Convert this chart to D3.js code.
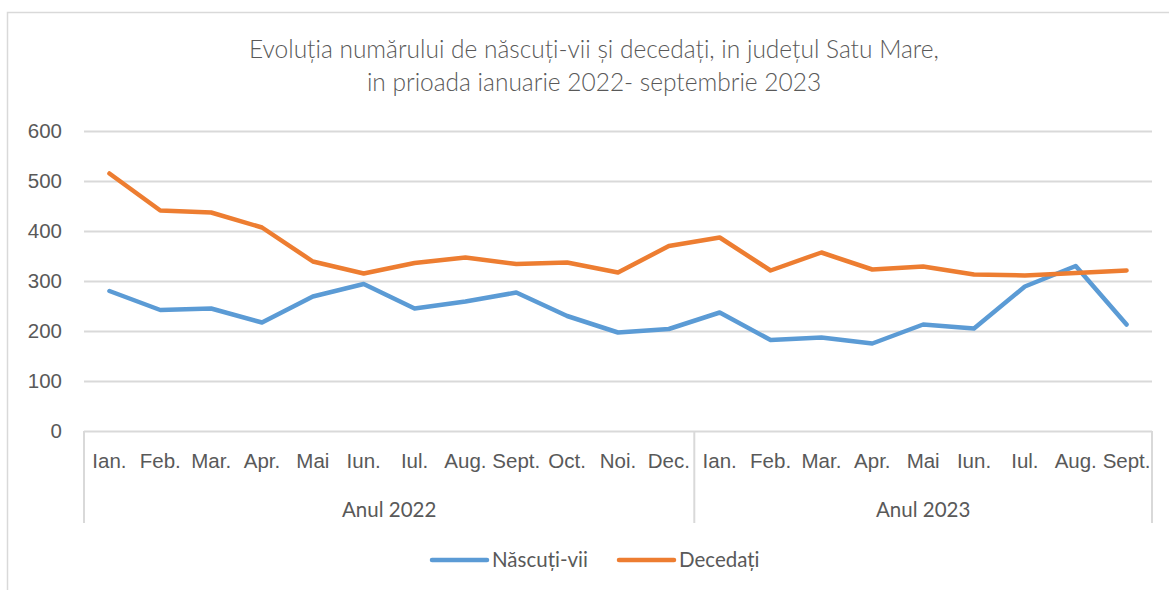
<!doctype html>
<html>
<head>
<meta charset="utf-8">
<title>Născuți-vii și decedați, Satu Mare</title>
<script src="https://cdnjs.cloudflare.com/ajax/libs/d3/7.8.5/d3.min.js"></script>
<style>
  body { margin: 0; background: #fff; }
  svg { display: block; font-family: Lato, 'Open Sans', sans-serif; }
  .tick text, .lbl { fill: #595959; }
</style>
</head>
<body>
<div id="chart"></div>
<script>
// data
var months2022 = ["Ian.", "Feb.", "Mar.", "Apr.", "Mai", "Iun.", "Iul.", "Aug.", "Sept.", "Oct.", "Noi.", "Dec."];
var months2023 = ["Ian.", "Feb.", "Mar.", "Apr.", "Mai", "Iun.", "Iul.", "Aug.", "Sept."];
var years = ["Anul 2022", "Anul 2023"];
var nascuti = [280, 242, 245, 217, 269, 294, 245, 259, 277, 230, 197, 204, 237, 182, 187, 175, 213, 205, 289, 330, 213];
var decedati = [515, 441, 437, 407, 339, 315, 336, 347, 334, 337, 317, 370, 387, 321, 357, 323, 329, 313, 311, 316, 321];
var yTicks = [0, 100, 200, 300, 400, 500, 600];
var seriesNames = ["Născuți-vii", "Decedați"];
var titleLines = ["Evoluția numărului de născuți-vii și decedați, in județul Satu Mare,",
                  "in prioada ianuarie 2022- septembrie 2023"];

var width = 1169, height = 590;
var margin = { top: 131, right: 17, bottom: 159, left: 84 };
var colors = ["#5B9BD5", "#ED7D31"];
var gridColor = "#D9D9D9";

// one entry per month, with its year group
var cats = [];
months2022.forEach(function (m, i) { cats.push({ id: "a" + i, month: m, year: years[0] }); });
months2023.forEach(function (m, i) { cats.push({ id: "b" + i, month: m, year: years[1] }); });

var svg = d3.select("#chart").append("svg").attr("width", width).attr("height", height);

// chart frame (runs off the right and bottom edge like the screenshot)
svg.append("rect")
    .attr("x", 7.5).attr("y", 12.5)
    .attr("width", width + 20).attr("height", height + 20)
    .attr("fill", "none").attr("stroke", gridColor).attr("stroke-width", 1.5);

var xScale = d3.scaleBand(cats.map(d => d.id), [margin.left, width - margin.right]).padding(0);
var yScale = d3.scaleLinear([0, 600], [height - margin.bottom, margin.top]);
var x = id => xScale(id) + xScale.bandwidth() / 2;

// title
svg.append("g").selectAll("text")
    .data(titleLines)
    .join("text")
    .attr("class", "lbl")
    .attr("x", 594)
    .attr("y", (d, i) => 58 + i * 33)
    .attr("text-anchor", "middle")
    .style("font-size", "24.5px")
    .style("font-weight", 300)
    .text(d => d);

// horizontal gridlines + y labels
var yAxis = d3.axisLeft(yScale).tickValues(yTicks).tickSize(-(width - margin.right - margin.left)).tickPadding(22);
var gy = svg.append("g").attr("transform", `translate(${margin.left},0)`).call(yAxis);
gy.select(".domain").remove();
gy.selectAll(".tick line").attr("stroke", gridColor).attr("stroke-width", 2);
gy.selectAll(".tick text").style("font-size", "20.5px").attr("font-family", null);

// month labels
var xAxis = d3.axisBottom(xScale).tickSize(0).tickPadding(22).tickFormat((d, i) => cats[i].month);
var gx = svg.append("g").attr("transform", `translate(0,${height - margin.bottom})`).call(xAxis);
gx.select(".domain").remove();
gx.selectAll(".tick text").style("font-size", "20.5px").attr("font-family", null);

// year groups: separators and labels
var groups = years.map(function (y) {
    var ids = cats.filter(d => d.year === y).map(d => d.id);
    return { name: y, x0: xScale(ids[0]), x1: xScale(ids[ids.length - 1]) + xScale.bandwidth() };
});
var y0 = yScale(0);
var sepX = [groups[0].x0, groups[0].x1, groups[1].x1];
svg.append("g").selectAll("line")
    .data(sepX)
    .join("line")
    .attr("x1", d => d).attr("x2", d => d)
    .attr("y1", y0).attr("y2", y0 + 92)
    .attr("stroke", gridColor).attr("stroke-width", 2);

svg.append("g").selectAll("text")
    .data(groups)
    .join("text")
    .attr("class", "lbl")
    .attr("x", d => (d.x0 + d.x1) / 2)
    .attr("y", y0 + 86)
    .attr("text-anchor", "middle")
    .style("font-size", "20.5px")
    .text(d => d.name);

// lines
var line = d3.line().x((d, i) => x(cats[i].id)).y(d => yScale(d));
svg.append("g").selectAll("path")
    .data([nascuti, decedati])
    .join("path")
    .attr("d", d => line(d))
    .attr("fill", "none")
    .attr("stroke", (d, i) => colors[i])
    .attr("stroke-width", 4.5)
    .attr("stroke-linejoin", "round")
    .attr("stroke-linecap", "round");

// legend
var legendX = [432, 619];
var legend = svg.append("g").selectAll("g")
    .data(seriesNames)
    .join("g")
    .attr("transform", (d, i) => `translate(${legendX[i]},560)`);
legend.append("line")
    .attr("x1", 0).attr("x2", 55)
    .attr("stroke", (d, i) => colors[i])
    .attr("stroke-width", 4.5)
    .attr("stroke-linecap", "round");
legend.append("text")
    .attr("class", "lbl")
    .attr("x", 60)
    .attr("dy", "0.35em")
    .style("font-size", "20.5px")
    .text(d => d);
</script>
</body>
</html>
